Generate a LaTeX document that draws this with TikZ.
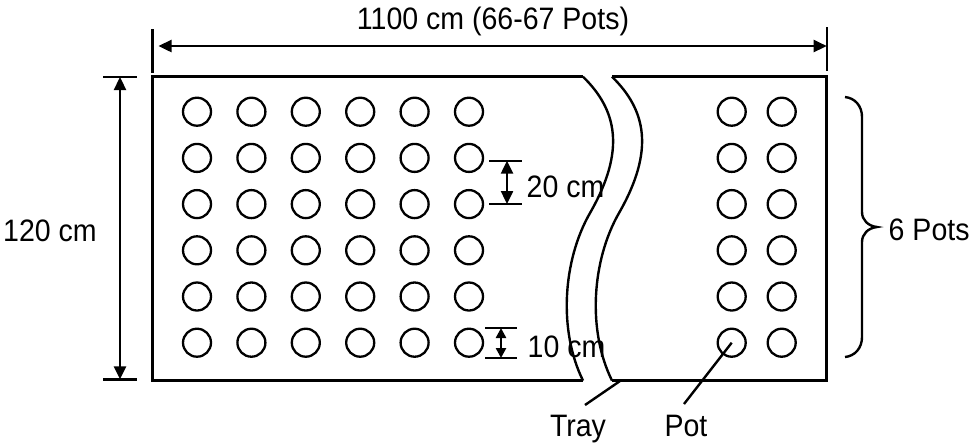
\documentclass[tikz,border=0pt]{standalone}
\usepackage{fontspec}
\setmainfont{Liberation Sans}[FakeStretch=0.92]
\usetikzlibrary{arrows.meta}
\begin{document}
\begin{tikzpicture}[x=0.5pt,y=0.5pt,yscale=-1,line width=1.2pt,
    dimarrow/.style={{Triangle[length=6.5pt,width=6pt]}-{Triangle[length=6.5pt,width=6pt]}},
    smallarrow/.style={{Triangle[length=5pt,width=5pt]}-{Triangle[length=5pt,width=5pt]}},
    pot/.style={circle,draw,line width=1.15pt,minimum size=14pt,inner sep=0pt},
    dimtext/.style={inner sep=0.75pt,font=\fontsize{15.5}{18}\selectfont}]
  \useasboundingbox (0,0) rectangle (972,447);

  %Shape: Tray (left and right part)
  \draw [line width=1.5pt] (583,76.7) -- (152.5,76.7) -- (152.5,380.6) -- (583,380.6) ;
  \draw [line width=1.5pt] (612,76.7) -- (826.7,76.7) -- (826.7,380.6) -- (612,380.6) ;
  %Curve Lines: break
  \draw (583,76.7) .. controls (617,110) and (626,150) .. (590,213) .. controls (563,260) and (558,330) .. (583,380.6) ;
  \draw (612,76.7) .. controls (646,110) and (655,150) .. (619,213) .. controls (592,260) and (587,330) .. (612,380.6) ;

  %Shape: Circle (pots)
  \foreach \c in {1,...,6} \foreach \r in {1,...,6}
    \node [pot] (pot-\c-\r) at ({197+54.4*(\c-1)},{111.7+46.2*(\r-1)}) {};
  \foreach \c/\x in {7/731.7,8/781.7} \foreach \r in {1,...,6}
    \node [pot] (pot-\c-\r) at (\x,{111.7+46.2*(\r-1)}) {};

  %Straight Lines: width
  \coordinate (wl) at (152.5,46) ;
  \coordinate (wr) at (826.7,46) ;
  \draw (152.5,29) -- (152.5,73) ;
  \draw (826.7,27) -- (826.7,71) ;
  \draw [dimarrow,shorten <=3pt] (wl) -- (wr) ;
  %Straight Lines: height
  \coordinate (ht) at (120,77) ;
  \coordinate (hb) at (120,379.3) ;
  \draw (103,77) -- (137,77) ;
  \draw (103,379.3) -- (137,379.3) ;
  \draw [dimarrow] (ht) -- (hb) ;
  %Straight Lines: 20 cm
  \coordinate (st) at (507,160.7) ;
  \coordinate (sb) at (507,204) ;
  \draw (489,160.7) -- (522,160.7) ;
  \draw (489,204) -- (522,204) ;
  \draw [dimarrow] (st) -- (sb) ;
  %Straight Lines: 10 cm
  \coordinate (gt) at (501,328) ;
  \coordinate (gb) at (501,358) ;
  \draw (485,328) -- (517,328) ;
  \draw (485,358) -- (517,358) ;
  \draw [smallarrow] (gt) -- (gb) ;

  %Curve Lines: brace
  \draw (845,97) .. controls (855,98) and (862,106) .. (862,117) -- (862,212) .. controls (862,220) and (868,226) .. (877,227) .. controls (868,228) and (862,234) .. (862,242) -- (862,337) .. controls (862,348) and (855,356) .. (845,357) ;

  % Text Node
  \node [dimtext,anchor=base] (width) at (493,29) {1100 cm (66-67 Pots)};
  % Text Node
  \node [dimtext,anchor=base] (height) at (50,241) {120 cm};
  % Text Node
  \node [dimtext,anchor=base west] (spacing) at (524,197) {20 cm};
  % Text Node
  \node [dimtext,anchor=base west] (gap) at (525,357) {10 cm};
  % Text Node
  \node [dimtext,anchor=base west] (rows) at (886,240) {6 Pots};
  % Text Node
  \node [dimtext,anchor=base] (tray) at (578,436) {Tray};
  % Text Node
  \node [dimtext,anchor=base] (potlabel) at (686,436) {Pot};

  %Straight Lines: leaders
  \coordinate (trayfoot) at (620,381) ;
  \coordinate (trayend) at (585,405) ;
  \coordinate (potend) at (684,404) ;
  \draw (trayfoot) -- (trayend) ;
  \draw (pot-7-6.center) -- (potend) ;
\end{tikzpicture}
\end{document}
